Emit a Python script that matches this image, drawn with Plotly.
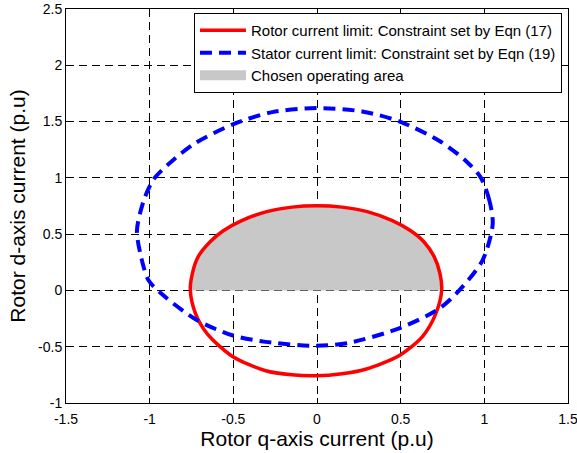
import plotly.graph_objects as go

# Rotor current limit boundary (q, d) in p.u, counter-clockwise from the right crossing
rotor_q = [0.745, 0.735, 0.70, 0.64, 0.56, 0.45, 0.30, 0.15, 0.0, -0.15, -0.30, -0.45, -0.56,
           -0.64, -0.71, -0.745, -0.757,
           -0.726, -0.657, -0.507, -0.307, -0.15, -0.008, 0.15, 0.29, 0.495, 0.63, 0.71, 0.745]
rotor_d = [0.0, 0.15, 0.30, 0.43, 0.53, 0.62, 0.70, 0.74, 0.752, 0.74, 0.70, 0.62, 0.53,
           0.43, 0.30, 0.15, 0.0,
           -0.206, -0.383, -0.584, -0.714, -0.75, -0.758, -0.74, -0.70, -0.575, -0.41, -0.206, 0.0]

# Stator current limit boundary (q, d) in p.u
stator_q = [1.05, 1.03, 0.98, 0.89, 0.73, 0.495, 0.27, 0.0, -0.267, -0.503, -0.726, -0.866,
            -0.976, -1.036, -1.076, -1.05, -1.006, -0.906, -0.716, -0.507, -0.307, -0.008,
            0.19, 0.495, 0.73, 0.85, 0.99, 1.05]
stator_d = [0.59, 0.80, 1.0, 1.15, 1.33, 1.50, 1.59, 1.62, 1.584, 1.475, 1.31, 1.15,
            0.988, 0.796, 0.531, 0.29, 0.088, -0.059, -0.265, -0.398, -0.457, -0.492,
            -0.466, -0.334, -0.162, 0.0, 0.27, 0.59]

x_ticks = [-1.5, -1, -0.5, 0, 0.5, 1, 1.5]
x_labels = ["-1.5", "-1", "-0.5", "0", "0.5", "1", "1.5"]
y_ticks = [-1, -0.5, 0, 0.5, 1, 1.5, 2, 2.5]
y_labels = ["-1", "-0.5", "0", "0.5", "1", "1.5", "2", "2.5"]

FONT = "Liberation Sans, Arial, Helvetica, sans-serif"
GRAY = "#c8c8c8"

# Operating area: upper half of the rotor limit, closed along d = 0
n_upper = rotor_d.index(0.0, 1) + 1
area_q = rotor_q[:n_upper]
area_d = rotor_d[:n_upper]

fig = go.Figure()
fig.add_trace(go.Scatter(
    x=area_q, y=area_d, mode="lines", fill="toself",
    fillcolor=GRAY, line=dict(width=0, color=GRAY, shape="spline", smoothing=0.8),
    showlegend=False, hoverinfo="skip",
))
fig.add_trace(go.Scatter(
    x=rotor_q, y=rotor_d, mode="lines",
    line=dict(color="#ff0000", width=3.5, shape="spline", smoothing=0.8),
    name="Rotor current limit: Constraint set by Eqn (17)", legendrank=1,
))
fig.add_trace(go.Scatter(
    x=stator_q, y=stator_d, mode="lines",
    line=dict(color="#0000ff", width=4, dash="12px,7px", shape="spline", smoothing=0.8),
    name="Stator current limit: Constraint set by Eqn (19)", legendrank=2,
))
# legend swatch for the shaded area
fig.add_trace(go.Scatter(
    x=[None], y=[None], mode="lines",
    line=dict(color=GRAY, width=17),
    name="Chosen operating area", legendrank=3,
))

axis_common = dict(
    showline=True, linecolor="black", linewidth=1, mirror="allticks",
    ticks="inside", ticklen=5, tickcolor="black",
    showgrid=True, gridcolor="black", gridwidth=1, griddash="8px,5px",
    zeroline=False, automargin=False, ticklabeloverflow="allow",
    tickfont=dict(family=FONT, size=14, color="black"),
)

fig.update_xaxes(
    range=[-1.5, 1.5], tickvals=x_ticks, ticktext=x_labels, ticklabelstandoff=3,
    title=dict(text="Rotor q-axis current (p.u)", font=dict(family=FONT, size=21, color="black"), standoff=5),
    **axis_common,
)
fig.update_yaxes(
    range=[-1, 2.5], tickvals=y_ticks, ticktext=y_labels,
    title=dict(text="Rotor d-axis current (p.u)", font=dict(family=FONT, size=21, color="black"), standoff=6),
    **axis_common,
)

fig.update_layout(
    width=577, height=453,
    margin=dict(l=66, r=9, t=9, b=50),
    paper_bgcolor="white", plot_bgcolor="white",
    font=dict(family=FONT, color="black"),
    legend=dict(
        x=0.988, y=0.99, xanchor="right", yanchor="top",
        bgcolor="white", bordercolor="black", borderwidth=1,
        font=dict(family=FONT, size=15, color="black"), itemwidth=46,
        tracegroupgap=0,
    ),
    showlegend=True,
)

fig.write_html("out.html")
